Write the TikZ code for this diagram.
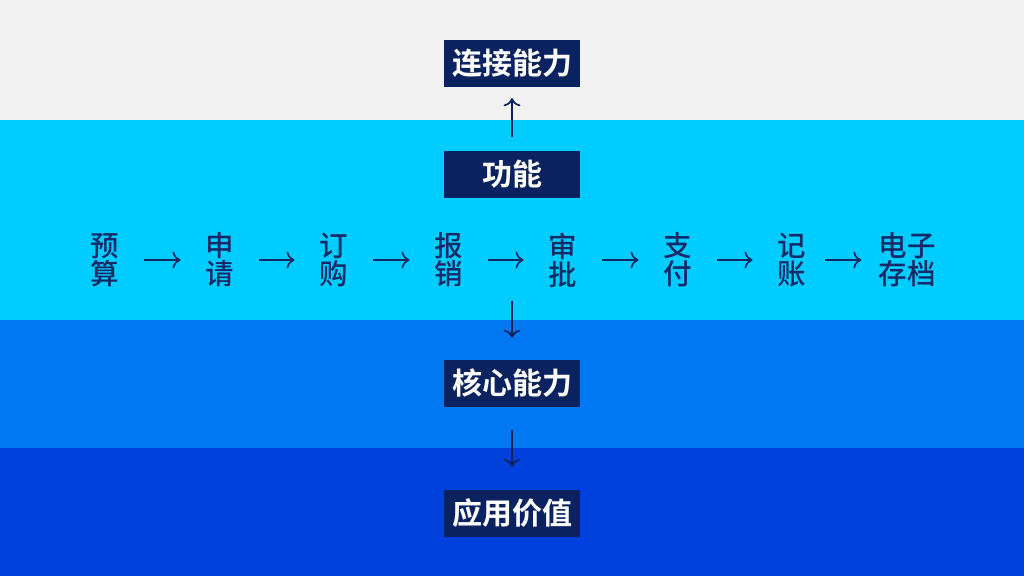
\documentclass[tikz,border=0pt]{standalone}
\usepackage{fontspec}
\usetikzlibrary{arrows.meta,positioning}
\newfontfamily\cjk{Noto Sans CJK SC Medium}
\newfontfamily\cjkbold{Noto Sans CJK SC Bold}
\definecolor{bggray}{HTML}{F2F2F2}
\definecolor{bgcyan}{HTML}{00CCFF}
\definecolor{bgmid}{HTML}{0078F2}
\definecolor{bgdeep}{HTML}{0041DD}
\definecolor{navy}{HTML}{0A2260}
\definecolor{ink}{HTML}{142A66}

\begin{document}
\begin{tikzpicture}[x=1pt,y=-1pt,
  tag/.style={fill=navy,text=white,inner sep=0pt,minimum width=136pt,
              minimum height=47pt,font=\cjkbold\fontsize{30}{30}\selectfont},
  stage/.style={text=ink,inner sep=0pt,align=center,
              font=\cjk\fontsize{28.5}{28}\selectfont},
  flow/.style={-{Computer Modern Rightarrow[scale=1.5]},
              line width=1.7pt,ink,shorten <=25pt,shorten >=25pt},
  link/.style={-{Computer Modern Rightarrow[scale=1.5]},
              line width=1.7pt,navy}]
  % bands
  \fill[bggray] (0,0) rectangle (1024,120);
  \fill[bgcyan] (0,120) rectangle (1024,320);
  \fill[bgmid] (0,320) rectangle (1024,448);
  \fill[bgdeep] (0,448) rectangle (1024,576);
  \useasboundingbox (0,0) rectangle (1024,576);

  % layers
  \node[tag] (conn) at (512,63.5) {连接能力};
  \node[tag] (func) at (512,174) {功能};
  \node[tag] (core) at (512,383.5) {核心能力};
  \node[tag] (value) at (512,513.5) {应用价值};

  % process chain
  \node[stage] (s1) at (105,260) {预\\算};
  \node[stage] (s2) at (220,260) {申\\请};
  \node[stage] (s3) at (334,260) {订\\购};
  \node[stage] (s4) at (449,260) {报\\销};
  \node[stage] (s5) at (563,260) {审\\批};
  \node[stage] (s6) at (678,260) {支\\付};
  \node[stage] (s7) at (792,260) {记\\账};
  \node[stage] (s8) at (907,260) {电子\\存档};
  \foreach \a/\b in {s1/s2,s2/s3,s3/s4,s4/s5,s5/s6,s6/s7}
    \draw[flow] (\a) -- (\b);
  \draw[flow,shorten <=19pt,shorten >=17pt] (s7) -- (s8);

  \coordinate (chain) at (512,301);
  \draw[link,shorten <=13pt,shorten >=11pt] (func) -- (conn);
  \draw[link,shorten >=22pt] (chain) -- (core);
  \draw[link,shorten <=23pt,shorten >=23pt] (core) -- (value);
\end{tikzpicture}
\end{document}
